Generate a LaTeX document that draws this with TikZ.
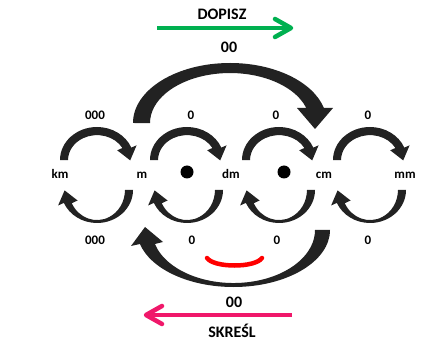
\documentclass[tikz,border=0pt]{standalone}
\usepackage{fontspec}
\setmainfont{Carlito}
\definecolor{bandgray}{HTML}{222222}
\definecolor{dopgreen}{HTML}{00B050}
\definecolor{skrpink}{HTML}{F0186A}
\begin{document}
\begin{tikzpicture}[x=1pt,y=-1pt,
  band/.style={fill=bandgray},
  lbl/.style={font=\bfseries\fontsize{13}{15}\selectfont, inner sep=0pt, anchor=base},
  big/.style={font=\bfseries\fontsize{16}{18}\selectfont, inner sep=0pt, anchor=base},
  chev/.style={line width=4.5pt, line cap=round, line join=round},
  toploop/.pic={
    \fill[band] (-37,160) arc[start angle=180,end angle=338,x radius=37,y radius=33]
      -- (39.6,145.3) -- (33.2,160.4) -- (20.2,150.3) -- (25.4,148)
      arc[start angle=331,end angle=180,x radius=29,y radius=25] -- cycle;
  },
  botloop/.pic={
    \fill[band] (28,190) -- (36,190) arc[start angle=0,end angle=157,x radius=36,y radius=33]
      -- (-38.9,205.5) -- (-32.4,190.4) -- (-19.4,200.5) -- (-25.2,203.2)
      arc[start angle=154,end angle=0,x radius=28,y radius=30] -- cycle;
  }]
\useasboundingbox (0,0) rectangle (433,344);

% small loops
\foreach \c in {97,187,279,370}{
  \pic at (\c,0) {toploop};
  \pic at (\c,0) {botloop};
}

% big top arc (DOPISZ 00)
\fill[band] (133,123) arc[start angle=180,end angle=345.5,x radius=97,y radius=60]
  -- (333,108) -- (315,129) -- (297,108) -- (306.3,108)
  arc[start angle=342.5,end angle=180,x radius=80,y radius=50] -- cycle;

% big bottom arc (SKRESL 00)
\fill[band] (315,230) -- (330,230) arc[start angle=0,end angle=165.8,x radius=96.5,y radius=57]
  -- (131,246) -- (145,227) -- (163,242) -- (154.9,244)
  arc[start angle=164.7,end angle=0,x radius=81.5,y radius=53] -- cycle;

% eyes and smile
\fill (187,172) circle[radius=6.5];
\fill (284,172) circle[radius=6.5];
\draw[red, line width=4.5pt, line cap=round] (207,258) .. controls (214,268) and (255,268) .. (262,258);

% green arrow
\coordinate (g1) at (157,28);
\coordinate (g2) at (291,28);
\draw[dopgreen, line width=4.5pt] (g1) -- ([xshift=-2pt]g2);
\draw[dopgreen, chev] (275,19) -- (g2) -- (275,37);

% pink arrow
\coordinate (p1) at (292,315);
\coordinate (p2) at (146,315);
\draw[skrpink, line width=4.5pt] (p1) -- ([xshift=2pt]p2);
\draw[skrpink, chev] (162,306) -- (p2) -- (162,324);

% texts
\node[big] (dopisz) at (222,20) {DOPISZ};
\node[big] (top00) at (229,53) {00};
\node[big] (bot00) at (234,307) {00};
\node[big] (skresl) at (232,337) {SKREŚL};

\node[lbl] (t1) at (95,120) {000};
\node[lbl] (t2) at (191,120) {0};
\node[lbl] (t3) at (276,120) {0};
\node[lbl] (t4) at (368,120) {0};

\node[lbl] (b1) at (95,245) {000};
\node[lbl] (b2) at (192,245) {0};
\node[lbl] (b3) at (277,245) {0};
\node[lbl] (b4) at (368,245) {0};

\node[lbl] (km) at (60,178.5) {km};
\node[lbl] (m) at (142,178.5) {m};
\node[lbl] (dm) at (231,178.5) {dm};
\node[lbl] (cm) at (324,178.5) {cm};
\node[lbl] (mm) at (405,178.5) {mm};
\end{tikzpicture}
\end{document}
